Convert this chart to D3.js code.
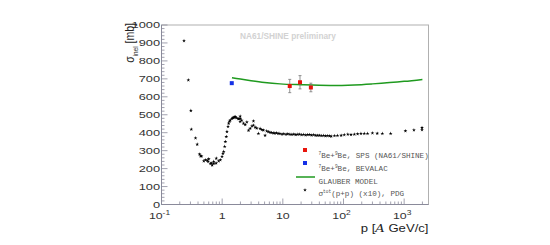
<!DOCTYPE html>
<html><head><meta charset="utf-8">
<script src="https://cdn.jsdelivr.net/npm/d3@7"></script>
<style>body{margin:0;background:#fff}svg{display:block}</style>
</head><body>
<script>
// pp total cross-section (x10), PDG
const ppP = [0.235,0.277,0.305,0.31,0.364,0.388,0.424,0.44,0.457,0.498,0.531,0.566,0.588,0.601,0.641,0.666,0.684,0.726,0.726,0.795,0.80,0.876,0.934,0.996,1.03,1.06,1.10,1.13,1.17,1.20,1.25,1.28,1.32,1.36,1.45,1.50,1.55,1.60,1.64,1.71,1.82,1.88,1.98,1.98,1.98,2.1,2.25,2.4,2.56,2.72,2.90,3.1,3.28,3.28,3.5,3.72,3.96,4.22,4.5,4.78,5.1,5.43,5.77,6.14,6.54,6.96,7.4,7.9,8.4,8.95,9.7,10.4,11.3,12.1,13.1,14.1,15.2,16.4,17.7,19.0,20.5,22.1,23.9,25.7,27.7,29.9,32.3,34.8,37.5,40.4,43.6,47.0,50.7,54.6,58.9,62.7,71,79.6,91.5,103,118,133,151,171,194,220,249,300,360,437,599,1050,1450,1970,1970];
const ppSigma = [912,693,523,419,370,335,280,270,269,242,248,246,239,254,228,230,219,239,228,230,257,242,248,267,284,295,323,350,378,406,434,452,463,470,479,483,484,487,489,483,479,477,478,491,462,469,452,445,459,413,424,437,441,465,430,425,395,423,417,414,385,409,405,402,400,398,397,399,395,395,392,394,391,393,391,390,392,389,391,391,388,390,387,389,389,386,388,385,385,385,383,384,382,383,382,380,383,384,385,388,391,389,391,393,395,395,395,398,396,395,395,410,415,428,416];
// Glauber model
const glauberP = [1.45,2,3,5,9,20,60,150,300,1000,2000];
const glauberSigma = [706,699,690,680,672,667,663,666,672,686,697];
// NA61/SHINE 7Be+9Be
const spsP = [13,19.2,29];
const spsSigma = [660,681,652];
const spsErr = [37,37,24];
// BEVALAC
const bevP = [1.44];
const bevSigma = [676];
const yTicks = [0,100,200,300,400,500,600,700,800,900,1000];
const xTicks = [0.1,1,10,100,1000];
const xTickLabels = [["10","-1"],["1",""],["10",""],["10","2"],["10","3"]];
const legendLabels = ["SPS (NA61/SHINE)","BEVALAC","GLAUBER MODEL","(p+p)  (x10), PDG"];

const W=550,H=245;
const svg=d3.select("body").append("svg").attr("width",W).attr("height",H);
const L=161.5,R=428.5,T=25,B=204.5;
const x=d3.scaleLog().domain([0.1,2520]).range([L,R]);
const y=d3.scaleLinear().domain([0,1000]).range([B,T]);
const axisCol="#8a8a9a";

// frame
svg.append("rect").attr("x",L).attr("y",T).attr("width",R-L).attr("height",B-T)
  .attr("fill","none").attr("stroke","#b0b0b0").attr("stroke-width",1);

// y axis
const yMinor=d3.range(0,1001,20);
svg.append("g").selectAll("line").data(yMinor).join("line")
  .attr("x1",L).attr("x2",d=>L+(d%100===0?6:3)).attr("y1",d=>y(d)).attr("y2",d=>y(d))
  .attr("stroke",axisCol).attr("stroke-width",0.8);
svg.append("line").attr("x1",L).attr("x2",L).attr("y1",T).attr("y2",B).attr("stroke",axisCol);
const tf="Liberation Sans, Arial, sans-serif";
svg.append("g").selectAll("text").data(yTicks).join("text")
  .attr("transform",d=>`translate(${L-1.5},${y(d)+3.4}) scale(1.35,1)`)
  .attr("text-anchor","end").attr("font-family",tf).attr("font-size",9.5).attr("fill","#333").text(d=>d);

// x axis
const xMinor=[];
for(let e=-1;e<=3;e++) for(let m=1;m<=9;m++){const v=m*Math.pow(10,e); if(v<=2520) xMinor.push({v,major:m===1});}
svg.append("g").selectAll("line").data(xMinor).join("line")
  .attr("x1",d=>x(d.v)).attr("x2",d=>x(d.v)).attr("y1",B).attr("y2",d=>B-(d.major?6:3))
  .attr("stroke",axisCol).attr("stroke-width",0.8);
svg.append("line").attr("x1",L).attr("x2",R).attr("y1",B).attr("y2",B).attr("stroke",axisCol);
const xl=svg.append("g").selectAll("text").data(xTicks).join("text")
  .attr("transform",(d,i)=>`translate(${x(d)-(xTickLabels[i][1]?2:0)},${B+14}) scale(1.3,1)`)
  .attr("text-anchor","middle").attr("font-family",tf).attr("font-size",9.5).attr("fill","#333");
xl.append("tspan").text((d,i)=>xTickLabels[i][0]);
xl.append("tspan").attr("dy",-4).attr("font-size",6.5).text((d,i)=>xTickLabels[i][1]);

// axis titles
const xt=svg.append("text").attr("transform",`translate(${R},${B+27}) scale(1.25,1)`).attr("text-anchor","end")
  .attr("font-family",tf).attr("font-size",10.5).attr("fill","#222");
xt.append("tspan").text("p [");
xt.append("tspan").attr("font-style","italic").attr("font-family","DejaVu Serif, serif").text("A");
xt.append("tspan").text(" GeV/c]");
const yt=svg.append("text").attr("transform",`translate(134,${T-2}) rotate(-90) scale(1,1.2)`).attr("text-anchor","end")
  .attr("font-family",tf).attr("font-size",10.5).attr("fill","#222");
yt.append("tspan").text("σ");
yt.append("tspan").attr("dy",3).attr("font-size",6.5).text("inel");
yt.append("tspan").attr("dy",-3).text(" [mb]");

// watermark
svg.append("text").attr("x",240).attr("y",38.5).attr("font-family",tf).attr("font-weight","bold")
  .attr("font-size",8.3).attr("fill","#d2d2d2").text("NA61/SHINE preliminary");

// pp data
const star=d3.symbol().type(d3.symbolStar).size(4.5);
svg.append("g").selectAll("path").data(ppP.map((p,i)=>[p,ppSigma[i]])).join("path")
  .attr("transform",d=>`translate(${x(d[0])},${y(d[1])})`).attr("d",star).attr("fill","#000");

// Glauber line
svg.append("path").datum(glauberP.map((p,i)=>[p,glauberSigma[i]]))
  .attr("d",d3.line().x(d=>x(d[0])).y(d=>y(d[1])).curve(d3.curveMonotoneX))
  .attr("fill","none").attr("stroke","#1f9a1f").attr("stroke-width",1.5);

// SPS points with errors
const sps=spsP.map((p,i)=>({p,s:spsSigma[i],e:spsErr[i]}));
const eg=svg.append("g").attr("stroke","#777").attr("stroke-width",0.8);
eg.selectAll(".eb").data(sps).join("line").attr("x1",d=>x(d.p)).attr("x2",d=>x(d.p))
  .attr("y1",d=>y(d.s+d.e)).attr("y2",d=>y(d.s-d.e));
eg.selectAll(".et").data(sps.flatMap(d=>[d.s+d.e,d.s-d.e].map(v=>({p:d.p,v})))).join("line")
  .attr("x1",d=>x(d.p)-1.5).attr("x2",d=>x(d.p)+1.5).attr("y1",d=>y(d.v)).attr("y2",d=>y(d.v));
svg.append("g").selectAll("rect").data(sps).join("rect")
  .attr("x",d=>x(d.p)-2).attr("y",d=>y(d.s)-2).attr("width",4).attr("height",4).attr("fill","#e8140c");
svg.append("g").selectAll("rect").data(bevP.map((p,i)=>[p,bevSigma[i]])).join("rect")
  .attr("x",d=>x(d[0])-2).attr("y",d=>y(d[1])-2).attr("width",4).attr("height",4).attr("fill","#1530e6");

// legend
const lf="Liberation Mono, Courier New, monospace";
const lx=305, tx=318.5;
const ly=[150,163,177,190];
svg.append("rect").attr("x",lx-2).attr("y",ly[0]-2).attr("width",4).attr("height",4).attr("fill","#e8140c");
svg.append("rect").attr("x",lx-2).attr("y",ly[1]-2).attr("width",4).attr("height",4).attr("fill","#1530e6");
svg.append("line").attr("x1",296).attr("x2",315).attr("y1",ly[2]).attr("y2",ly[2]).attr("stroke","#1f9a1f").attr("stroke-width",1.5);
svg.append("path").attr("transform",`translate(${lx},${ly[3]})`).attr("d",star).attr("fill","#000");
function beText(yy,label){
  const t=svg.append("text").attr("x",tx).attr("y",yy).attr("font-family",lf).attr("font-size",7.6).attr("fill","#555");
  t.append("tspan").attr("font-size",4.5).attr("dy",-2.5).text("7");
  t.append("tspan").attr("dy",2.5).text("Be+");
  t.append("tspan").attr("font-size",4.5).attr("dy",-2.5).text("9");
  t.append("tspan").attr("dy",2.5).text("Be, "+label);
}
beText(ly[0]+7.5,legendLabels[0]);
beText(ly[1]+7.5,legendLabels[1]);
svg.append("text").attr("x",tx).attr("y",ly[2]+6.5).attr("font-family",lf).attr("font-size",7.6).attr("fill","#555").text(legendLabels[2]);
const st=svg.append("text").attr("x",tx).attr("y",ly[3]+5.5).attr("font-family",lf).attr("font-size",7.6).attr("fill","#555");
st.append("tspan").text("σ");
st.append("tspan").attr("font-size",4.5).attr("dy",-2.5).text("tot");
st.append("tspan").attr("dy",2.5).text(legendLabels[3]);
</script>
</body></html>
